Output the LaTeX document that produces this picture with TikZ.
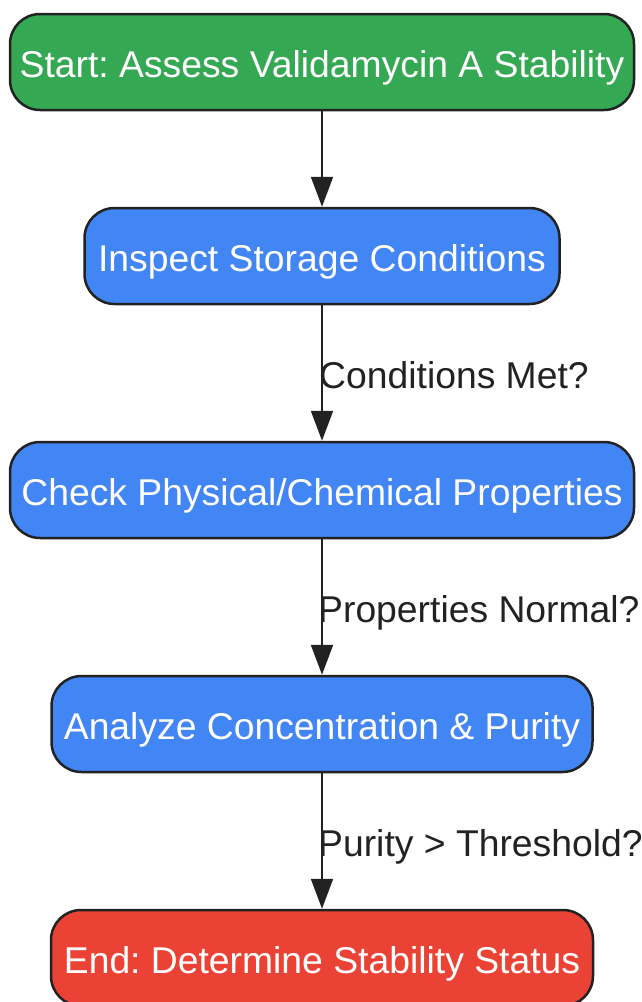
\documentclass[tikz,border=0pt]{standalone}
\usepackage{fontspec}
\setmainfont{Liberation Sans}
\usetikzlibrary{arrows.meta}
\frenchspacing
\definecolor{gfill}{HTML}{34A853}
\definecolor{bfill}{HTML}{4285F4}
\definecolor{rfill}{HTML}{EA4335}
\definecolor{edgec}{HTML}{222222}
\definecolor{lblc}{HTML}{222222}
\tikzset{
  box/.style={draw=edgec, line width=2.5pt, rounded corners=30pt, minimum height=96pt,
    inner sep=0pt, text=white, font=\fontsize{37.3}{44}\selectfont\frenchspacing, text height=30pt, text depth=0pt},
  gbox/.style={box, fill=gfill},
  bbox/.style={box, fill=bfill},
  rbox/.style={box, fill=rfill},
  arr/.style={draw=edgec, line width=2pt, -{Triangle[length=30pt,width=22pt]}},
  lbl/.style={text=lblc, font=\fontsize{37.3}{44}\selectfont\frenchspacing, inner sep=0pt, anchor=base west}
}
\begin{document}
\begin{tikzpicture}[x=1pt,y=-1pt]
\useasboundingbox (0,0) rectangle (641,1002);
\node[gbox, minimum width=624pt] (start) at (322,62) {Start: Assess Validamycin A Stability};
\node[bbox, minimum width=475pt] (inspect) at (322,256) {Inspect Storage Conditions};
\node[bbox, minimum width=624pt] (check) at (322,490) {Check Physical/Chemical Properties};
\node[bbox, minimum width=541pt] (analyze) at (322,724) {Analyze Concentration \& Purity};
\node[rbox, minimum width=542pt] (end) at (322,958) {End: Determine Stability Status};
\draw[arr] (start) -- (inspect);
\draw[arr] (inspect) -- (check);
\draw[arr] (check) -- (analyze);
\draw[arr] (analyze) -- (end);
\node[lbl] (l1) at (319,388) {Conditions Met?};
\node[lbl] (l2) at (318,622) {Properties Normal?};
\node[lbl] (l3) at (318,856) {Purity > Threshold?};
\end{tikzpicture}
\end{document}
